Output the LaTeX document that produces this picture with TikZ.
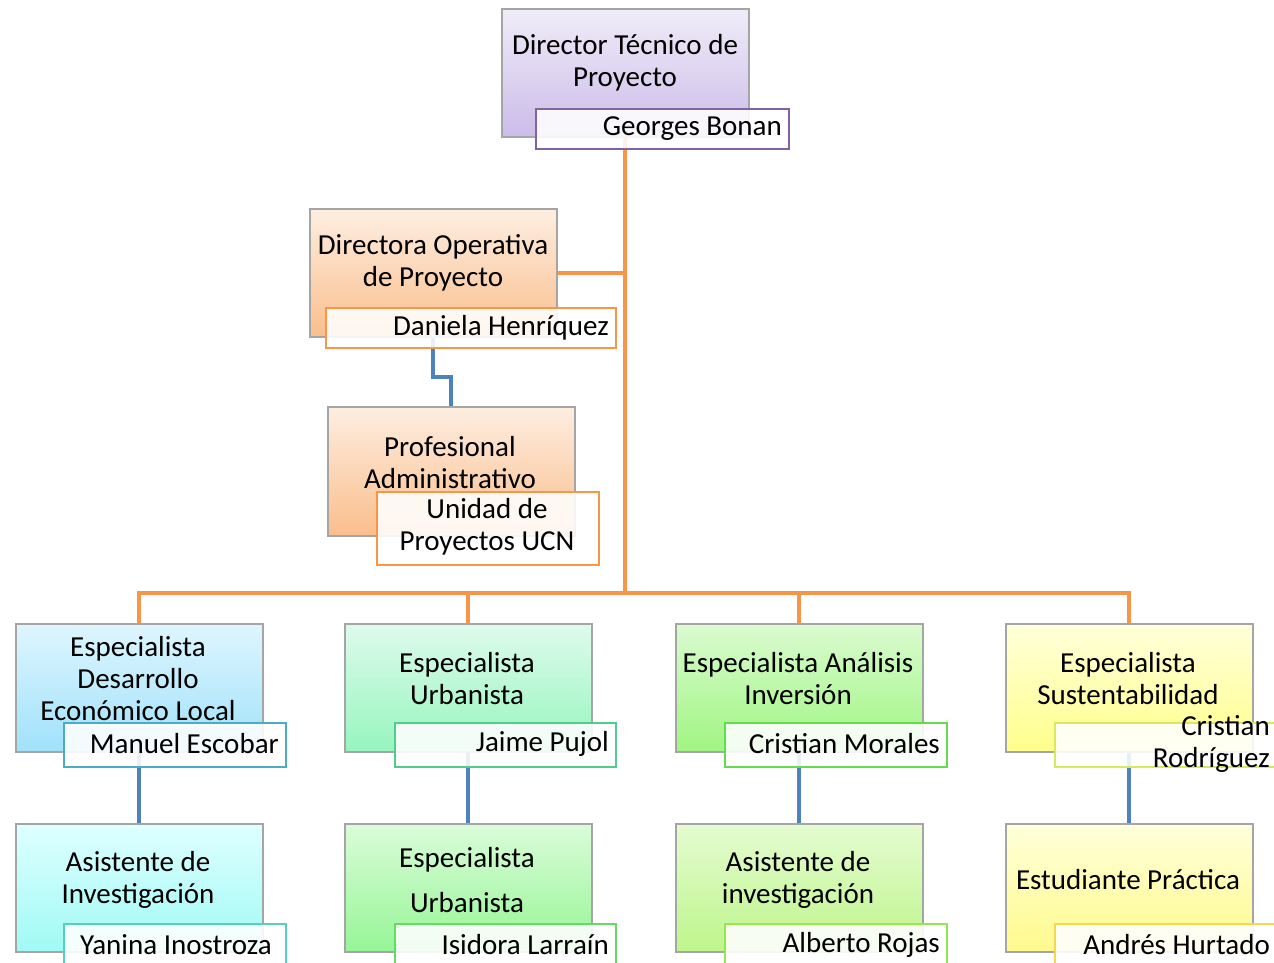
\documentclass[tikz,border=0pt]{standalone}
\usepackage{fontspec}
\setmainfont{Carlito}
\usetikzlibrary{shadows,backgrounds,calc}
\definecolor{ora}{RGB}{247,150,70}
\definecolor{blu}{RGB}{79,129,189}
\definecolor{purB}{RGB}{128,100,162}
\definecolor{c1B}{RGB}{75,172,198}
\definecolor{c2B}{RGB}{80,205,140}
\definecolor{c3B}{RGB}{100,220,80}
\definecolor{c4B}{RGB}{215,235,90}
\definecolor{d1B}{RGB}{80,210,190}
\definecolor{d2B}{RGB}{100,220,100}
\definecolor{d3B}{RGB}{150,230,80}
\definecolor{d4B}{RGB}{245,215,80}
\tikzset{
  box/.style={rectangle, draw={rgb,255:red,165;green,165;blue,165}, line width=1.5pt, anchor=north west,
    inner sep=0pt, minimum width=247pt, minimum height=128pt,
    drop shadow={shadow xshift=1.5pt, shadow yshift=-1.5pt, opacity=0.35}},
  namebox/.style={rectangle, draw=#1, line width=1.5pt, fill=white, fill opacity=0.88,
    anchor=north west, inner sep=0pt},
  lbl/.style={inner sep=0pt, align=center, font=\fontsize{29}{32}\selectfont},
  nlbl/.style={inner sep=0pt, align=right, font=\fontsize{29}{32}\selectfont, anchor=east},
  oconn/.style={draw=ora, line width=4pt},
  bconn/.style={draw=blu, line width=4pt},
}
\begin{document}
\begin{tikzpicture}[x=1pt,y=-1pt]
\useasboundingbox (0,0) rectangle (1274,962);
% main boxes
\node[box, top color={rgb,255:red,240;green,236;blue,248}, bottom color={rgb,255:red,203;green,188;blue,233}] (top) at (501,8) {};
\node[box, top color={rgb,255:red,253;green,238;blue,225}, bottom color={rgb,255:red,250;green,190;blue,140}] (dir) at (309,208) {};
\node[box, minimum height=129pt, top color={rgb,255:red,253;green,238;blue,225}, bottom color={rgb,255:red,250;green,190;blue,140}] (prof) at (327,406) {};
\node[box, top color={rgb,255:red,222;green,246;blue,255}, bottom color={rgb,255:red,160;green,225;blue,250}] (c1) at (15,623) {};
\node[box, top color={rgb,255:red,222;green,251;blue,236}, bottom color={rgb,255:red,150;green,245;blue,190}] (c2) at (344,623) {};
\node[box, top color={rgb,255:red,218;green,251;blue,208}, bottom color={rgb,255:red,160;green,245;blue,130}] (c3) at (675,623) {};
\node[box, top color={rgb,255:red,255;green,255;blue,218}, bottom color={rgb,255:red,255;green,255;blue,140}] (c4) at (1005,623) {};
\node[box, top color={rgb,255:red,222;green,255;blue,255}, bottom color={rgb,255:red,160;green,250;blue,245}] (d1) at (15,823) {};
\node[box, top color={rgb,255:red,218;green,252;blue,218}, bottom color={rgb,255:red,150;green,245;blue,150}] (d2) at (344,823) {};
\node[box, top color={rgb,255:red,228;green,252;blue,208}, bottom color={rgb,255:red,190;green,245;blue,140}] (d3) at (675,823) {};
\node[box, top color={rgb,255:red,255;green,255;blue,218}, bottom color={rgb,255:red,255;green,250;blue,140}] (d4) at (1005,823) {};
% connectors
\coordinate (bar) at (0,593);
\coordinate (dmid) at (0,377);
\begin{scope}[on background layer]
\draw[oconn] (top.south) -- (top.south |- bar);
\draw[oconn] (dir.east) -- (dir.east -| top.south);
\draw[oconn, line cap=rect] (c1.north |- bar) -- (c4.north |- bar);
\draw[oconn] (c1.north |- bar) -- (c1.north);
\draw[oconn] (c2.north |- bar) -- (c2.north);
\draw[oconn] (c3.north |- bar) -- (c3.north);
\draw[oconn] (c4.north |- bar) -- (c4.north);
\draw[bconn] (dir.south) -- (dir.south |- dmid) -| (prof.north);
\draw[bconn] (c1.south) -- (d1.north);
\draw[bconn] (c2.south) -- (d2.north);
\draw[bconn] (c3.south) -- (d3.north);
\draw[bconn] (c4.south) -- (d4.north);
\end{scope}
% titles
\node[lbl] (ttop) at (625,63) {Director Técnico de\\Proyecto};
\node[lbl] (tdir) at (433,263) {Directora Operativa\\de Proyecto};
\node[lbl] (tprof) at (450,463) {Profesional\\Administrativo};
\node[lbl] (tc1) at (138,679) {Especialista\\Desarrollo\\Económico Local};
\node[lbl] (tc2) at (467,679) {Especialista\\Urbanista};
\node[lbl] (tc3) at (798,679) {Especialista Análisis\\Inversión};
\node[lbl] (tc4) at (1128,679) {Especialista\\Sustentabilidad};
\node[lbl] (td1) at (138,880) {Asistente de\\Investigación};
\node[lbl, font=\fontsize{29}{45}\selectfont] (td2) at (467,880) {Especialista\\Urbanista};
\node[lbl] (td3) at (798,880) {Asistente de\\investigación};
\node[lbl] (td4) at (1128,880) {Estudiante Práctica};
% name boxes
\node[namebox=purB, minimum width=253pt, minimum height=40pt] (ntop) at (535,108) {};
\node[namebox=ora, minimum width=290pt, minimum height=40pt] (ndir) at (325,307) {};
\node[namebox=ora, minimum width=222pt, minimum height=73pt] (nprof) at (376,491) {};
\node[namebox=c1B, minimum width=222pt, minimum height=44pt] (nc1) at (63,722) {};
\node[namebox=c2B, minimum width=221pt, minimum height=44pt] (nc2) at (394,722) {};
\node[namebox=c3B, minimum width=222pt, minimum height=44pt] (nc3) at (724,722) {};
\node[namebox=c4B, minimum width=240pt, minimum height=44pt] (nc4) at (1054,722) {};
\node[namebox=d1B, minimum width=222pt, minimum height=60pt] (nd1) at (63,923) {};
\node[namebox=d2B, minimum width=221pt, minimum height=60pt] (nd2) at (394,923) {};
\node[namebox=d3B, minimum width=222pt, minimum height=60pt] (nd3) at (724,923) {};
\node[namebox=d4B, minimum width=240pt, minimum height=60pt] (nd4) at (1054,923) {};
% name labels
\node[nlbl] (lntop) at (782,129) {Georges Bonan};
\node[nlbl] (lndir) at (609,328) {Daniela Henríquez};
\node[lbl] (lnprof) at (487,527) {Unidad de\\Proyectos UCN};
\node[nlbl] (lnc1) at (279,744) {Manuel Escobar};
\node[nlbl] (lnc2) at (609,744) {Jaime Pujol};
\node[nlbl] (lnc3) at (940,744) {Cristian Morales};
\node[nlbl] (lnc4) at (1270,744) {Cristian\\Rodríguez};
\node[nlbl] (lnd1) at (272,945) {Yanina Inostroza};
\node[nlbl] (lnd2) at (609,945) {Isidora Larraín};
\node[nlbl] (lnd3) at (940,945) {Alberto Rojas};
\node[nlbl] (lnd4) at (1270,945) {Andrés Hurtado};
\end{tikzpicture}
\end{document}
